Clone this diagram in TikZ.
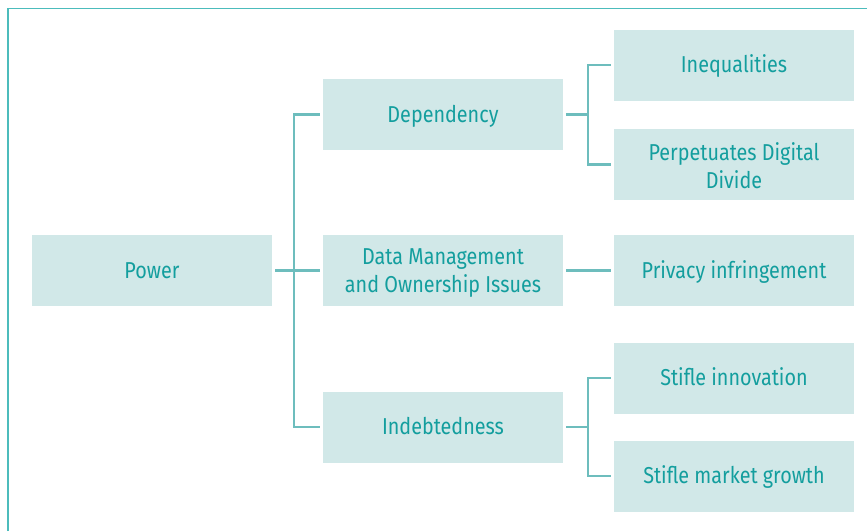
\documentclass[tikz,border=0pt]{standalone}
\usepackage{fontspec}
\setmainfont{Fira Sans}[FakeStretch=0.86]
\definecolor{boxfill}{HTML}{D1E8E8}
\definecolor{boxtext}{HTML}{139E9E}
\definecolor{linkcol}{HTML}{6DBDBD}
\definecolor{framecol}{HTML}{4CBCBC}
\tikzset{
  box/.style={rectangle, fill=boxfill, text=boxtext, minimum width=240pt, minimum height=71pt,
    inner sep=0pt, align=center, text height=16pt, text depth=1pt,
    font=\fontsize{23pt}{28pt}\selectfont},
  twoline/.style={text height=44pt},
  link/.style={draw=linkcol, line width=2.2pt, line join=miter},
}
\begin{document}
\begin{tikzpicture}[x=1pt,y=-1pt]
\useasboundingbox (0,0) rectangle (867,531);
\draw[framecol, line width=1.6pt] (8,531) -- (8,8.5) -- (867,8.5);
\node[box] (power) at (152,270.5) {Power};
\node[box] (dep) at (443,114.5) {Dependency};
\node[box, twoline] (data) at (443,270.5) {Data Management\\and Ownership Issues};
\node[box] (ind) at (443,427) {Indebtedness};
\node[box] (ineq) at (734,65.3) {Inequalities};
\node[box, twoline, text height=48pt] (perp) at (734,164.5) {Perpetuates Digital\\Divide};
\node[box] (priv) at (734,270.5) {Privacy infringement};
\node[box] (stinn) at (734,378) {Stifle innovation};
\node[box] (stmk) at (734,476.3) {Stifle market growth};
% level 1
\draw[link] ([xshift=3pt]power.east) -- ([xshift=-3pt]data.west);
\draw[link] ([xshift=-3pt]dep.west) -- ++(-26,0) |- ([xshift=-3pt]ind.west);
% level 2
\draw[link] ([xshift=3pt]dep.east) -- ++(22,0);
\draw[link] ([xshift=-3pt]ineq.west) -- ++(-23,0) |- ([xshift=-3pt]perp.west);
\draw[link] ([xshift=3pt]data.east) -- ([xshift=-3pt]priv.west);
\draw[link] ([xshift=3pt]ind.east) -- ++(22,0);
\draw[link] ([xshift=-3pt]stinn.west) -- ++(-23,0) |- ([xshift=-3pt]stmk.west);
\end{tikzpicture}
\end{document}
